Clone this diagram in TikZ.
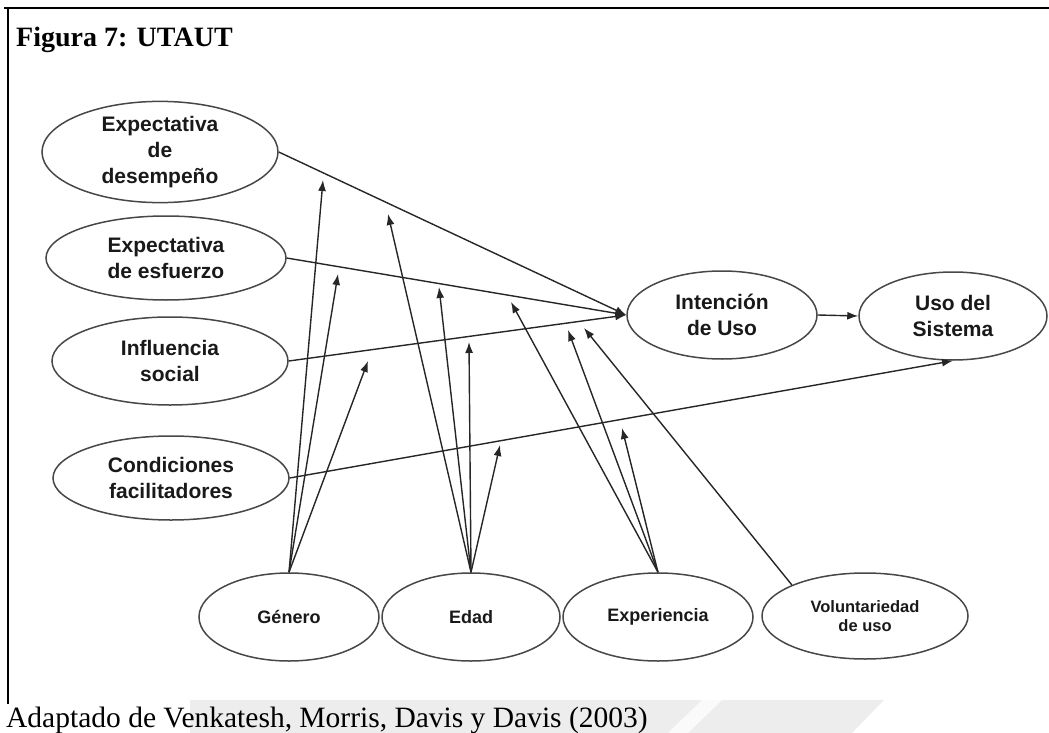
\documentclass[tikz,border=0pt]{standalone}
\usepackage{fontspec}
\setmainfont{Liberation Serif}
\newfontfamily\lbl{Liberation Sans}
\usetikzlibrary{shapes.geometric,arrows.meta}

\tikzset{
  construct/.style={ellipse, draw=black!72, line width=1.5pt, inner sep=0pt,
    align=center, text=black!90,
    font=\lbl\bfseries\fontsize{21}{26}\selectfont},
  moderator/.style={ellipse, draw=black!72, line width=1.5pt, inner sep=0pt,
    align=center, text=black!90,
    font=\lbl\bfseries\fontsize{18}{20}\selectfont},
  arr/.style={draw=black!85, line width=1.4pt, -{Latex[length=11pt,width=8pt]}},
}

\begin{document}
\begin{tikzpicture}[x=1pt,y=-1pt]
\useasboundingbox (0,0) rectangle (1049,733);

% faint grey band behind the source line
\fill[black!7] (190,700) -- (884,700) -- (852,733) -- (190,733) -- cycle;
\fill[black!2] (668,733) -- (702,700) -- (722,700) -- (688,733) -- cycle;

% frame
\draw[line width=2.6pt] (4,8) -- (1049,8);
\draw[line width=2pt] (8,7) -- (8,704);

% title and source
\node[anchor=base west, inner sep=0pt, font=\bfseries\fontsize{28}{30}\selectfont]
  (title) at (16,47) {Figura 7: UTAUT};
\node[anchor=base west, inner sep=0pt, font=\fontsize{29.5}{32}\selectfont]
  (source) at (6,727) {Adaptado de Venkatesh, Morris, Davis y Davis (2003)};

% determinants
\node[construct, minimum width=236pt, minimum height=90pt] (pe)  at (160,152) {Expectativa\\de\\desempeño};
\node[construct, minimum width=240pt, minimum height=84pt] (ee)  at (166,258) {Expectativa\\de esfuerzo};
\node[construct, minimum width=236pt, minimum height=88pt] (si)  at (170,361) {Influencia\\social};
\node[construct, minimum width=236pt, minimum height=84pt] (fc)  at (171,478) {Condiciones\\facilitadores};

% intention and behaviour
\node[construct, minimum width=190pt, minimum height=88pt] (bi)  at (722,315) {Intención\\de Uso};
\node[construct, minimum width=188pt, minimum height=88pt] (ub)  at (953,316) {Uso del\\Sistema};

% moderators
\node[moderator, minimum width=180pt, minimum height=88pt] (gen) at (289,617) {Género};
\node[moderator, minimum width=178pt, minimum height=88pt] (age) at (471,617) {Edad};
\node[moderator, minimum width=190pt, minimum height=88pt] (exp) at (658,617) {Experiencia};
\node[moderator, minimum width=206pt, minimum height=86pt,
      font=\lbl\bfseries\fontsize{16.5}{19}\selectfont] (vol) at (865,616) {Voluntariedad\\de uso};

% main paths
\draw[arr] (pe.east) -- (bi.west);
\draw[arr] (ee.east) -- (bi.west);
\draw[arr] (si.east) -- (bi.west);
\draw[arr] (fc.east) -- (ub.south);
\draw[arr] (bi.east) -- (ub.west);

% moderating effects (tips just under the paths they moderate)
\coordinate (g1) at (323,180);
\coordinate (g2) at (338,274);
\coordinate (g3) at (368,361);
\coordinate (a1) at (388,214);
\coordinate (a2) at (439,287);
\coordinate (a3) at (469,342);
\coordinate (a4) at (500,445);
\coordinate (x1) at (511,302);
\coordinate (x2) at (568,330);
\coordinate (x3) at (622,428);
\coordinate (v1) at (584,328);

\foreach \t in {g1,g2,g3} \draw[arr] (gen.north) -- (\t);
\foreach \t in {a1,a2,a3,a4} \draw[arr] (age.north) -- (\t);
\foreach \t in {x1,x2,x3} \draw[arr] (exp.north) -- (\t);
\draw[arr] (vol.157) -- (v1);
\end{tikzpicture}
\end{document}
